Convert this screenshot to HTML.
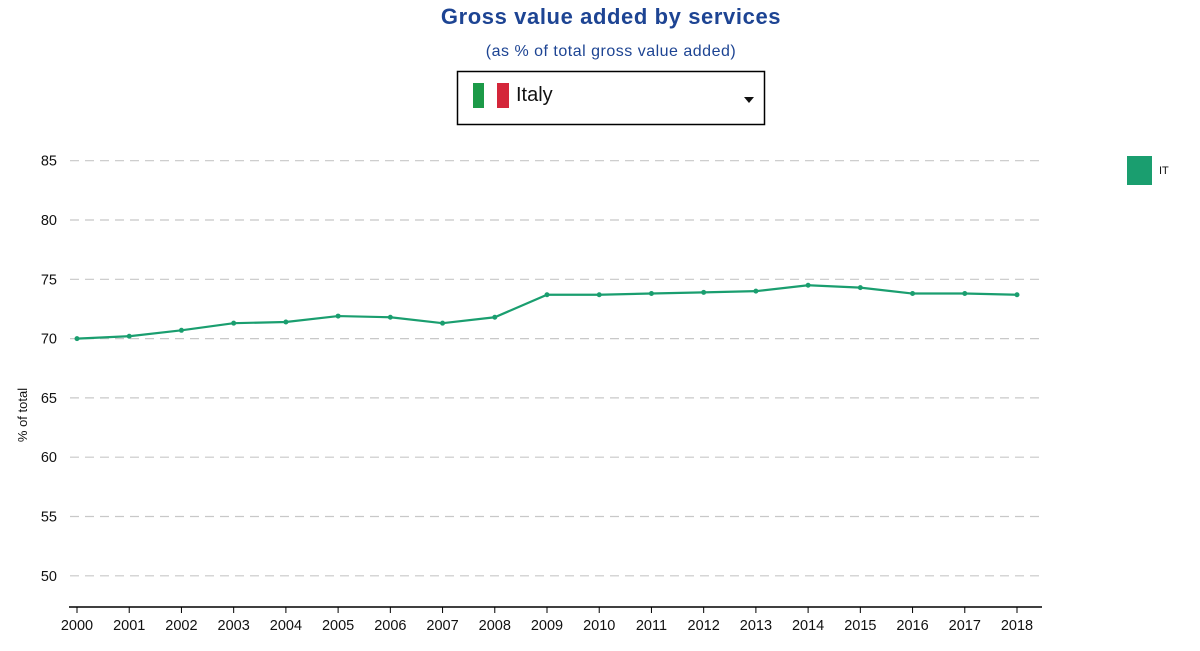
<!DOCTYPE html>
<html><head><meta charset="utf-8"><style>
body{margin:0;background:#fff;width:1200px;height:646px;overflow:hidden;font-family:"Liberation Sans",sans-serif;}
</style></head><body>
<svg width="1200" height="646" xmlns="http://www.w3.org/2000/svg">
<text x="611" y="24" text-anchor="middle" font-size="22" font-weight="bold" letter-spacing="0.6" fill="#1d4493">Gross value added by services</text>
<text x="611" y="56" text-anchor="middle" font-size="16" letter-spacing="0.5" fill="#1d4493">(as % of total gross value added)</text>
<g>
<rect x="457.5" y="71.5" width="307" height="53" fill="#fff" stroke="#000" stroke-width="1.5"/>
<rect x="473" y="83" width="11" height="25" fill="#1c9a48"/>
<rect x="497" y="83" width="12" height="25" fill="#d4263a"/>
<text x="516" y="101" font-size="20" fill="#111">Italy</text>
<path d="M744 97 L754 97 L749 103 Z" fill="#111"/>
</g>
<g id="grid"></g>
<g id="xaxis"></g>
<text transform="translate(27,415) rotate(-90)" text-anchor="middle" font-size="13" fill="#111">% of total</text>
<g id="series"></g>
<g>
<rect x="1127" y="156" width="25" height="29" fill="#1a9e6f"/>
<text x="1159" y="174" font-size="11" fill="#111">IT</text>
</g>
</svg>
<script>
const years=["2000","2001","2002","2003","2004","2005","2006","2007","2008","2009","2010","2011","2012","2013","2014","2015","2016","2017","2018"];
const values=[70.0,70.2,70.7,71.3,71.4,71.9,71.8,71.3,71.8,73.7,73.7,73.8,73.9,74.0,74.5,74.3,73.8,73.8,73.7];
const yTicks=[50,55,60,65,70,75,80,85];
const NS="http://www.w3.org/2000/svg";
function y(v){return 338.6-(v-70)*11.86;}
function x(i){return 77+i*(1017-77)/(years.length-1);}
function mk(t,a,p){const e=document.createElementNS(NS,t);for(const k in a)e.setAttribute(k,a[k]);p.appendChild(e);return e;}
const grid=document.getElementById('grid');
yTicks.forEach(v=>{
 const l=mk('line',{x1:70,x2:1042,y1:y(v),y2:y(v),stroke:'#c8c8c8','stroke-width':1.2,'stroke-dasharray':'9,6'},grid);
 
 
 const t=mk('text',{x:57,y:y(v)+5,'text-anchor':'end','font-size':14.5,fill:'#111'},grid);
 t.textContent=v;
 
 
});
const xa=document.getElementById('xaxis');
const ax=mk('line',{x1:69,x2:1042,y1:607,y2:607,stroke:'#000','stroke-width':1.5},xa);


years.forEach((yr,i)=>{
 const tk=mk('line',{x1:x(i),x2:x(i),y1:607,y2:613,stroke:'#000'},xa);
 
 
 const t=mk('text',{x:x(i),y:630,'text-anchor':'middle','font-size':14.5,fill:'#111'},xa);
 t.textContent=yr;
 
 
});
const s=document.getElementById('series');
const pl=mk('polyline',{points:values.map((v,i)=>x(i)+','+y(v)).join(' '),fill:'none',stroke:'#1a9e6f','stroke-width':2.2},s);


values.forEach((v,i)=>{
 const c=mk('circle',{cx:x(i),cy:y(v),r:2.5,fill:'#1a9e6f'},s);
 
 
});
</script>
</body></html>
